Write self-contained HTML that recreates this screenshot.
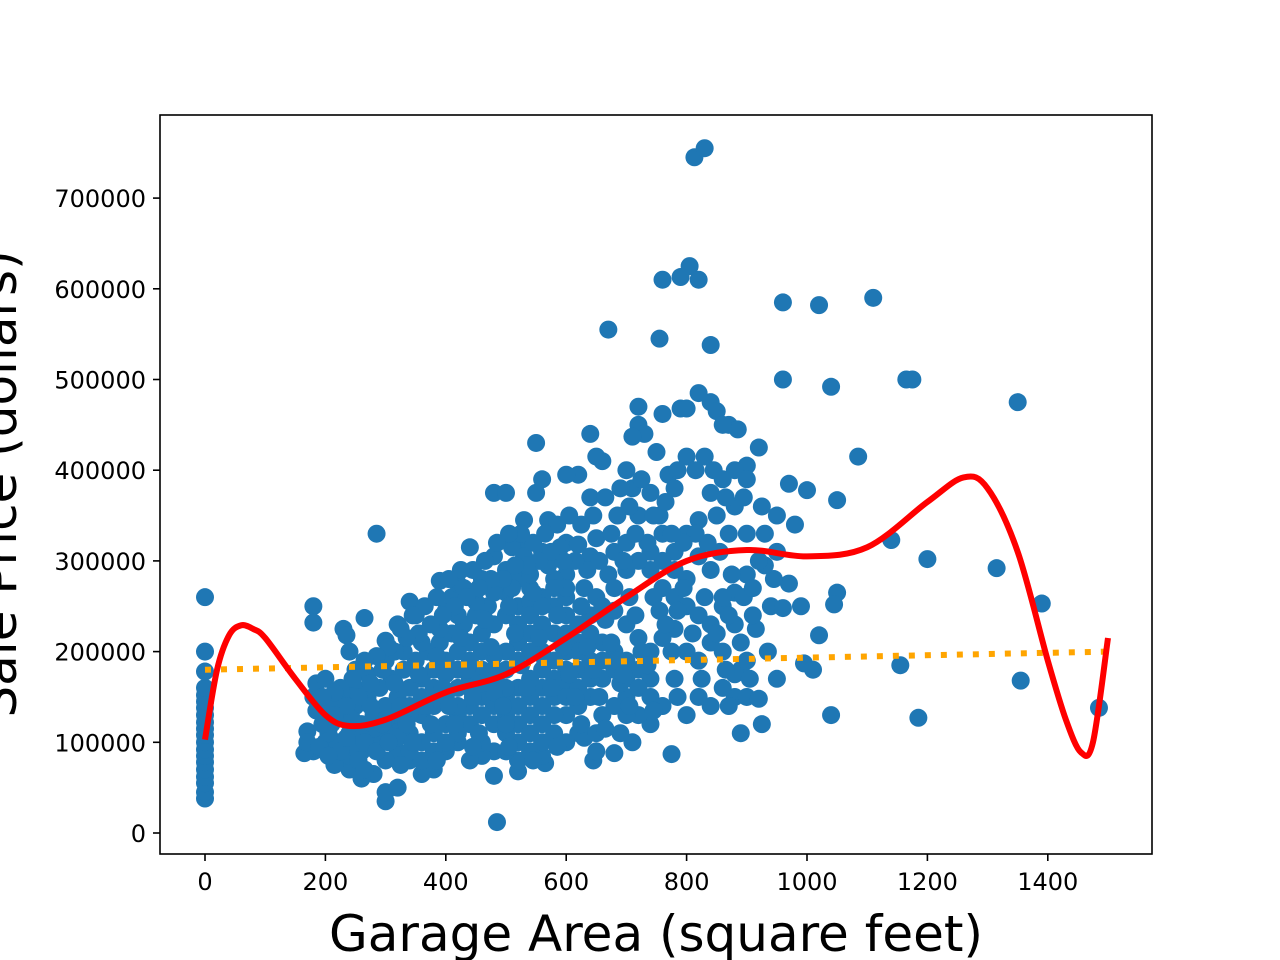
<!DOCTYPE html>
<html><head><meta charset="utf-8"><style>
html,body{margin:0;padding:0;background:#fff;}
svg{display:block;font-family:"DejaVu Sans","Liberation Sans",sans-serif;}
</style></head><body>
<svg id="chart" width="1280" height="960" viewBox="0 0 1280 960">
<g id="points"></g>
<g id="lines"></g>
<rect x="160" y="115" width="992" height="739" fill="none" stroke="#000" stroke-width="1.6"/>
<g id="axes"></g>
<text x="656" y="951" font-size="50" text-anchor="middle">Garage Area (square feet)</text>
<text transform="translate(16,484) rotate(-90)" font-size="50" text-anchor="middle">Sale Price (dollars)</text>
</svg>
<script>
const xTicks=[0,200,400,600,800,1000,1200,1400];
const yTicks=[0,100000,200000,300000,400000,500000,600000,700000];
const pts=[[0,38],[0,45],[0,55],[0,62],[0,70],[0,78],[0,85],[0,92],[0,100],[0,108],[0,115],[0,122],[0,130],[0,138],[0,145],[0,152],[0,160],[0,178],[0,200],[0,260],
[813,745],[830,755],[760,610],[790,613],[805,625],[820,610],[670,555],[755,545],[840,538],[960,585],[1020,582],[1110,590],[960,500],[1040,492],[1165,500],[1175,500],[1350,475],[1085,415],[1140,323],[1200,302],[1315,292],[1390,253],[1155,185],[1185,127],[1355,168],[1485,138],[1040,130],[1010,180],[995,187],[285,330],[485,12],[300,35],[300,45],[320,50],[480,63],[520,68],[565,77],[645,80],[775,87],[890,110],[925,120],[680,88],[1050,265],[1045,252],[1020,218],[1050,367],[1000,378],[970,385],[980,340],[950,350],[990,250],[970,275],[945,280],[940,250],[960,248],[915,225],[930,295],[900,330],[920,425],[900,405],[870,450],[885,445],[840,475],[850,465],[860,450],[820,485],[790,468],[800,468],[760,462],[720,470],[720,450],[730,440],[710,437],[750,420],[770,395],[780,380],[800,415],[830,415],[840,375],[860,390],[880,400],[900,390],[880,360],[870,330],[850,350],[820,345],[800,330],[780,310],[760,330],[740,375],[710,380],[690,380],[700,400],[660,410],[640,440],[650,415],[620,395],[600,395],[640,370],[560,390],[550,430],[480,375],[500,375],[550,375],[570,345],[530,345],[440,315],[520,320],[600,320],[650,325],[680,310],[700,320],[720,350],[740,290],[760,270],[780,260],[800,250],[820,240],[840,230],[860,250],[880,265],[900,285],[920,300],[880,230],[890,180],[900,190],[880,150],[870,140],[860,160],[900,150],[920,148],[950,170],[840,140],[820,150],[800,130],[780,170],[760,140],[740,120],[720,130],[700,150],[690,165],[710,100],[690,110],[650,90],[630,105],[620,110],[600,100],[580,110],[560,85],[540,90],[520,100],[500,110],[480,90],[460,85],[440,80],[420,100],[400,90],[380,70],[360,65],[340,80],[320,90],[300,80],[280,65],[260,60],[240,70],[220,80],[200,90],[180,90],[165,88],[170,112],[180,150],[185,165],[180,250],[180,232],[230,225],[235,218],[240,200],[265,237],[300,212],[320,230],[340,255],[350,240],[390,278],[400,245],[410,260],[420,275],[430,270],[460,280],[480,305],[500,290],[510,315],[530,305],[560,310],[590,315],[620,318],[640,305],[670,285],[600,285],[580,280],[540,270],[520,280],[500,265],[470,250],[450,240],[430,230],[410,220],[390,210],[370,200],[350,190],[330,180],[310,170],[290,160],[270,150],[250,140],[230,130],[210,120],[200,100],[220,95],[240,110],[260,120],[280,130],[300,140],[320,150],[340,160],[360,170],[380,180],[400,190],[420,200],[440,210],[460,220],[480,230],[500,240],[520,250],[540,255],[560,260],[580,250],[600,240],[620,230],[640,220],[660,210],[680,200],[700,190],[720,180],[740,170],[660,170],[640,150],[620,140],[600,130],[580,150],[560,140],[540,130],[520,120],[500,130],[480,140],[460,150],[440,140],[420,130],[400,120],[380,110],[360,100],[340,110],[320,120],[300,110],[280,100],[260,90],[240,85],[220,100],[250,160],[270,175],[300,190],[330,200],[360,210],[390,225],[420,240],[450,255],[480,265],[510,270],[540,285],[570,295],[600,260],[630,270],[650,260],[680,245],[700,230],[720,215],[740,200],[760,215],[780,225],[800,200],[820,190],[840,210],[860,200],[880,175],[860,260],[840,290],[820,305],[800,280],[780,290],[760,300],[740,310],[720,300],[700,290],[680,270],[660,250],[640,240],[620,210],[600,200],[580,190],[560,180],[540,170],[520,160],[500,150],[480,170],[460,180],[440,170],[420,160],[400,150],[380,140],[360,130],[340,140],[320,130],[300,125],[280,115],[260,105],[240,95],[230,150],[250,180],[210,140],[200,170],[560,230],[540,220],[520,210],[500,200],[480,195],[460,200],[440,190],[420,180],[400,175],[380,160],[360,150],[340,130],[320,105],[580,220],[600,220],[620,180],[640,190],[660,190],[680,180],[700,170],[560,200],[540,200],[520,190],[500,180],[480,180],[580,170],[600,160],[620,160],[640,170],[560,160],[540,150],[520,140],[500,160],[580,130],[600,150],[560,120],[540,110],[520,80],[500,90],[460,100],[440,120],[420,110],[400,100],[380,90],[360,80],[340,90],[420,140],[440,160],[460,130],[480,120],[480,155],[460,165],[680,140],[700,130],[720,160],[740,150],[660,130],[650,110],[560,100],[500,120],[600,180],[620,200],[540,240],[520,230],[560,250],[600,270],[580,270],
[170,100],[190,95],[205,110],[215,75],[225,90],[235,105],[245,125],[255,80],[265,100],[275,140],[285,90],[295,120],[305,100],[315,165],[325,140],[335,120],[345,100],[355,175],[365,140],[375,120],[385,195],[395,160],[405,140],[415,120],[425,215],[435,180],[445,150],[455,110],[465,235],[475,205],[485,175],[495,140],[505,250],[515,220],[525,185],[535,160],[545,265],[555,215],[565,190],[575,160],[585,240],[595,205],[605,175],[615,150],[625,250],[635,205],[645,180],[655,150],[665,235],[675,210],[685,190],[695,175],[705,260],[715,240],[725,200],[735,185],[745,260],[755,245],[765,230],[775,200],[785,245],[795,270],[810,220],[830,260],[850,220],[870,240],[890,210],[910,240],[895,260],[875,285],[855,310],[835,320],[815,330],[795,320],[775,330],[755,350],[735,320],[715,330],[695,300],[675,330],[655,300],[635,290],[615,300],[595,300],[575,310],[555,300],[535,295],[515,295],[495,280],[475,280],[455,270],[435,260],[415,250],[395,240],[375,230],[355,220],[335,215],[315,200],[295,180],[275,165],[255,150],[235,140],[215,130],[195,120],[185,135],[205,85],[265,70],[325,75],[385,80],[445,95],[505,95],[545,80],[585,95],[625,120],[665,115],[705,140],[745,135],[785,150],[825,170],[865,180],[905,170],[935,200],[910,270],[930,330],[950,310],[925,360],[895,370],[865,370],[845,400],[815,400],[785,400],[765,365],[745,350],[725,390],[705,360],[685,350],[665,370],[645,350],[625,340],[605,350],[585,340],[565,330],[545,320],[525,330],[505,330],[485,320],[465,300],[445,290],[425,290],[405,280],[385,260],[365,250],[345,240],[325,225],[305,205],[285,195],[265,190],[245,170],[225,160],[215,155],[195,150]];
const polyX=[0,20,40,60,80,100,150,200,240,300,400,500,600,700,800,900,1000,1100,1200,1260,1300,1350,1400,1430,1455,1475,1500];
const polyY=[103,180,218,229,225,215,170,130,118,125,155,175,215,260,300,312,305,315,365,392,380,310,190,125,89,100,215];
const linX=[0,1500];
const linY=[180000,200000];
const sx=v=>205+v*0.602;
const sy=v=>833-v*0.000907;
const NS='http://www.w3.org/2000/svg';
function mk(t,a){const e=document.createElementNS(NS,t);for(const k in a)e.setAttribute(k,a[k]);return e;}
const gp=document.getElementById('points');
pts.forEach(p=>{const c=mk('circle',{cx:sx(p[0]),cy:sy(p[1]*1000),r:9,fill:'#1f77b4'});


gp.appendChild(c);});
const gl=document.getElementById('lines');
const lin=mk('line',{x1:sx(linX[0]),y1:sy(linY[0]),x2:sx(linX[1]),y2:sy(linY[1]),stroke:'orange','stroke-width':6,'stroke-dasharray':'6 10'});


gl.appendChild(lin);
const d=polyX.map((x,i)=>[sx(x),sy(polyY[i]*1000)]);
let path='M'+d[0][0]+','+d[0][1];
for(let i=0;i<d.length-1;i++){const p0=d[i-1]||d[i],p1=d[i],p2=d[i+1],p3=d[i+2]||d[i+1];
path+=' C'+(p1[0]+(p2[0]-p0[0])/6)+','+(p1[1]+(p2[1]-p0[1])/6)+' '+(p2[0]-(p3[0]-p1[0])/6)+','+(p2[1]-(p3[1]-p1[1])/6)+' '+p2[0]+','+p2[1];}
const pl=mk('path',{d:path,fill:'none',stroke:'red','stroke-width':6});


gl.appendChild(pl);
const ga=document.getElementById('axes');
xTicks.forEach(v=>{const x=sx(v);
const l=mk('line',{x1:x,y1:854,x2:x,y2:861,stroke:'#000','stroke-width':1.6});


ga.appendChild(l);
const t=mk('text',{x:x,y:890,'font-size':24,'text-anchor':'middle'});t.textContent=v;


ga.appendChild(t);});
yTicks.forEach(v=>{const y=sy(v);
const l=mk('line',{x1:153,y1:y,x2:160,y2:y,stroke:'#000','stroke-width':1.6});


ga.appendChild(l);
const t=mk('text',{x:146,y:y+9,'font-size':24,'text-anchor':'end'});t.textContent=v;


ga.appendChild(t);});
</script>
</body></html>
